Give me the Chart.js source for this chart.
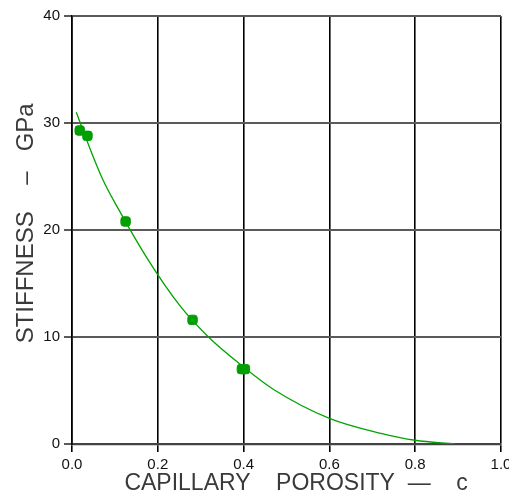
<!DOCTYPE html>
<html>
<head>
<meta charset="utf-8">
<script src="https://cdn.jsdelivr.net/npm/chart.js@4/dist/chart.umd.min.js"></script>
<style>
html,body{margin:0;padding:0;background:#fff;}
#wrap{width:509px;height:495px;}
</style>
</head>
<body>
<div id="wrap"><canvas id="c" width="509" height="495"></canvas></div>
<script>
// Measured points
const porosity = [0.018, 0.036, 0.125, 0.281, 0.396, 0.403];
const stiffness = [29.3, 28.8, 20.8, 11.6, 7.0, 7.0];
// Fitted curve
const curvePorosity = [0.01, 0.04, 0.072, 0.109, 0.176, 0.252, 0.318, 0.40, 0.47, 0.60, 0.72, 0.80, 0.892];
const curveStiffness = [31.0, 27.8, 24.7, 21.9, 17.3, 12.9, 10.0, 7.2, 5.1, 2.4, 1.0, 0.35, 0.0];
// Axes
const xTicks = [0, 0.2, 0.4, 0.6, 0.8, 1.0];
const yTicks = [0, 10, 20, 30, 40];
const xTitle = '   CAPILLARY    POROSITY  —    c';
const yTitle = '  STIFFNESS    –   GPa';

const green = '#00a400';
const curveData = curvePorosity.map((x, i) => ({x, y: curveStiffness[i]}));
const pointData = porosity.map((x, i) => ({x, y: stiffness[i]}));

new Chart(document.getElementById('c'), {
  type: 'scatter',
  data: {
    datasets: [
      {
        data: curveData,
        showLine: true,
        borderColor: green,
        borderWidth: 1.3,
        pointRadius: 0,
        cubicInterpolationMode: 'monotone',
        fill: false
      },
      {
        data: pointData,
        showLine: false,
        pointStyle: 'rectRounded',
        pointRadius: 5.5,
        backgroundColor: '#00a000',
        borderColor: '#0b9a0b',
        borderWidth: 1
      }
    ]
  },
  options: {
    responsive: false,
    animation: false,
    layout: {padding: {top: 16, right: 8, left: 0, bottom: 0}},
    plugins: {legend: {display: false}, tooltip: {enabled: false}},
    scales: {
      x: {
        type: 'linear',
        min: 0, max: 1,
        afterBuildTicks: s => { s.ticks = xTicks.map(v => ({value: v})); },
        afterFit: s => { s.height = 51; s.paddingLeft = 0; s.paddingRight = 0; },
        ticks: {
          callback: v => v.toFixed(1),
          font: {family: 'Liberation Sans', size: 15},
          color: '#111',
          padding: 4,
          maxRotation: 0
        },
        grid: {color: '#000', lineWidth: 1.6, tickLength: 8, tickColor: '#000'},
        border: {color: '#444', width: 2.2},
        title: {
          display: true,
          text: xTitle,
          font: {family: 'Liberation Sans', size: 23, lineHeight: 1},
          color: '#3a3a3a',
          padding: {top: 0, bottom: 0}
        }
      },
      y: {
        type: 'linear',
        min: 0, max: 40,
        afterBuildTicks: s => { s.ticks = yTicks.map(v => ({value: v})); },
        afterFit: s => { s.width = 72; s.paddingTop = 0; s.paddingBottom = 0; },
        ticks: {
          font: {family: 'Liberation Sans', size: 15},
          color: '#111',
          padding: 4
        },
        grid: {color: '#5a5a5a', lineWidth: 2, tickLength: 8, tickColor: '#5a5a5a'},
        border: {color: '#000', width: 1.6},
        title: {
          display: true,
          text: yTitle,
          font: {family: 'Liberation Sans', size: 24, lineHeight: 1},
          color: '#3a3a3a',
          padding: {top: 14, bottom: 0}
        }
      }
    }
  }
});
</script>
</body>
</html>
